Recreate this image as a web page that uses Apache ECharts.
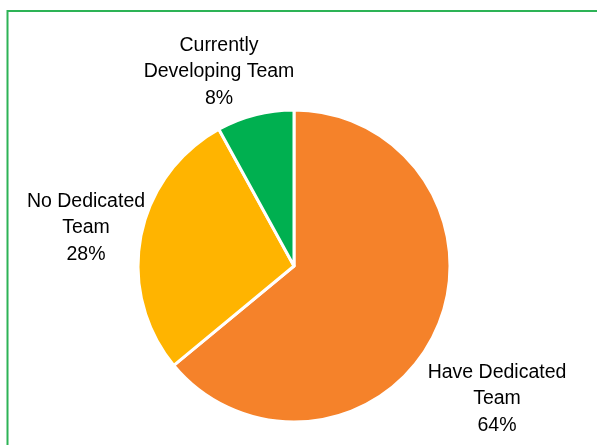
<!DOCTYPE html>
<html>
<head>
<meta charset="utf-8">
<script src="https://cdn.jsdelivr.net/npm/echarts@6/dist/echarts.min.js"></script>
<style>
html,body{margin:0;padding:0;background:#fff;}
#chart{width:597px;height:445px;}
</style>
</head>
<body>
<div id="chart"></div>
<script>
const categories = ['Have Dedicated\nTeam', 'No Dedicated\nTeam', 'Currently\nDeveloping Team'];
const values = [64, 28, 8];
const colors = ['#F5822A', '#FFB400', '#00B050'];

const labelPos = [
  { x: 497, y: 399 },
  { x: 86, y: 228 },
  { x: 219, y: 72 }
];

const chart = echarts.init(document.getElementById('chart'), null, { renderer: 'canvas' });
chart.setOption({
  animation: false,
  graphic: [{
    type: 'rect',
    shape: { x: 7.5, y: 11, width: 700, height: 600 },
    style: { fill: 'none', stroke: '#2DB356', lineWidth: 2 },
    silent: true
  }],
  series: [{
    type: 'pie',
    center: [294, 266],
    radius: [0, 156],
    startAngle: 90,
    clockwise: true,
    avoidLabelOverlap: false,
    itemStyle: { borderColor: '#fff', borderWidth: 3 },
    label: {
      show: true,
      position: 'outside',
      formatter: p => p.name + '\n' + p.value + '%',
      fontFamily: '"Liberation Sans", Arial, sans-serif',
      fontSize: 19.5,
      lineHeight: 26.5,
      color: '#000',
      align: 'center'
    },
    labelLine: { show: false },
    labelLayout: params => {
      const pos = labelPos[params.dataIndex];
      return { x: pos.x, y: pos.y, align: 'center', verticalAlign: 'middle' };
    },
    data: categories.map((c, i) => ({ name: c, value: values[i], itemStyle: { color: colors[i] } }))
  }]
});
</script>
</body>
</html>
